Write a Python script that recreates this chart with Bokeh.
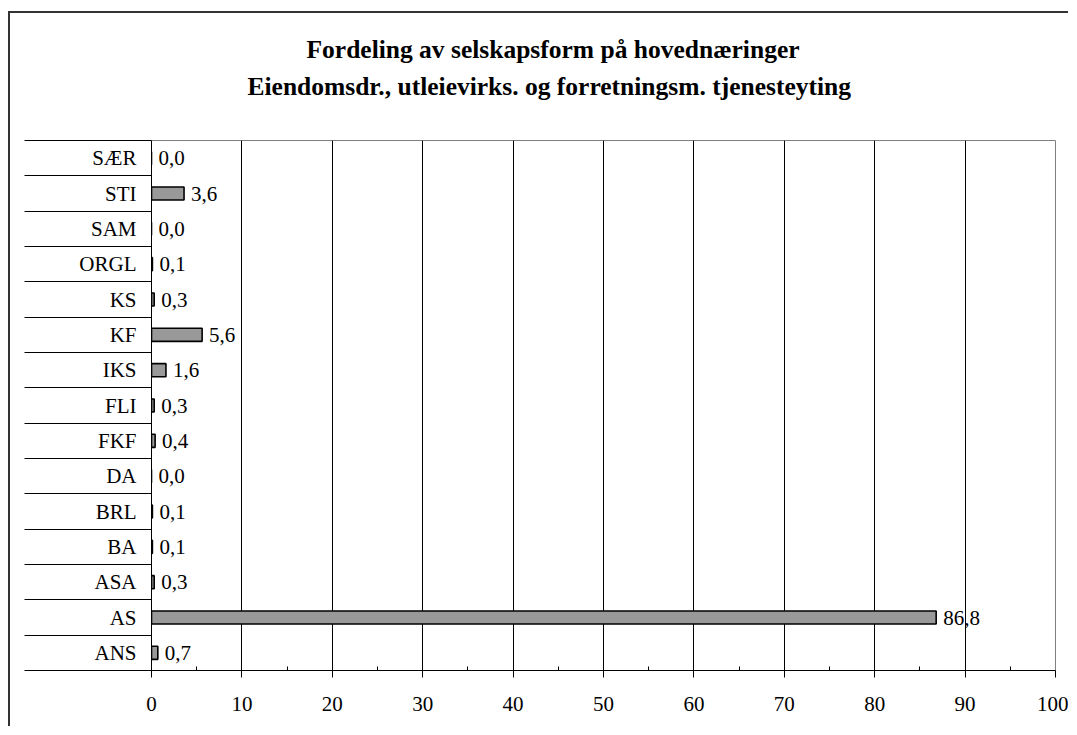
import numpy as np
from bokeh.plotting import figure
from bokeh.models import ColumnDataSource, FixedTicker, Range1d, Title, LinearAxis
from bokeh.core.properties import value
from bokeh.embed import file_html
from bokeh.resources import INLINE

categories = ["ANS", "AS", "ASA", "BA", "BRL", "DA", "FKF", "FLI", "IKS", "KF", "KS", "ORGL", "SAM", "STI", "SÆR"]
values = [0.7, 86.8, 0.3, 0.1, 0.1, 0.0, 0.4, 0.3, 1.6, 5.6, 0.3, 0.1, 0.0, 3.6, 0.0]
x_ticks = [0, 10, 20, 30, 40, 50, 60, 70, 80, 90, 100]
x_minor = [5, 15, 25, 35, 45, 55, 65, 75, 85, 95]
title_lines = ["Fordeling av selskapsform på hovednæringer",
               "Eiendomsdr., utleievirks. og forretningsm. tjenesteyting"]

FONT = "'Liberation Serif', serif"
FS = "21px"
n = len(categories)
ypos = [i + 0.5 for i in range(n)]
labels = [f"{v:.1f}".replace(".", ",") for v in values]

src = ColumnDataSource(dict(y=ypos, v=values, lab=labels, cat=categories))

p = figure(width=1060, height=715, output_backend="svg", toolbar_location=None,
           x_range=Range1d(0, 100), y_range=Range1d(0, n),
           min_border_left=141, min_border_right=15, min_border_top=127, min_border_bottom=58)
p.styles = {"margin-left": "8px", "margin-top": "11px",
            "border-left": "2px solid #333333", "border-top": "2px solid #333333"}

p.hbar(y="y", right="v", left=0, height=0.37, source=src,
       fill_color="#999999", line_color="#000000", line_width=1.6)
p.text(x="v", y="y", text="lab", source=src, x_offset=7,
       text_font=value(FONT), text_font_size=FS, text_baseline="middle",
       text_align="left", text_color="#000000")

# x axis
xa = p.xaxis[0]
xa.ticker = FixedTicker(ticks=x_ticks, minor_ticks=x_minor)
xa.major_tick_out = 7
xa.major_tick_in = 0
xa.minor_tick_in = 4
xa.minor_tick_out = 0
xa.axis_line_color = "#000000"
xa.major_tick_line_color = "#000000"
xa.minor_tick_line_color = "#000000"
xa.major_label_text_font = FONT
xa.major_label_text_font_size = FS
xa.major_label_text_color = "#000000"
xa.major_label_standoff = 19

# y axis: labels at category centres, boundary lines as long minor ticks
ya = p.yaxis[0]
ya.ticker = FixedTicker(ticks=ypos, minor_ticks=list(range(n + 1)))
ya.major_label_overrides = {y: c for y, c in zip(ypos, categories)}
ya.major_tick_out = 0
ya.major_tick_in = 0
ya.minor_tick_out = 127
ya.minor_tick_in = 0
ya.minor_tick_line_color = "#000000"
ya.axis_line_color = "#000000"
ya.major_label_text_font = FONT
ya.major_label_text_font_size = FS
ya.major_label_text_color = "#000000"
ya.major_label_standoff = 15 - 127

p.xgrid.ticker = FixedTicker(ticks=x_ticks)
p.xgrid.grid_line_color = "#000000"
p.xgrid.grid_line_width = 1
p.ygrid.grid_line_color = None
p.outline_line_color = "#808080"
p.outline_line_width = 1

# empty gap between the title block and the plot frame (an invisible axis)
spacer = LinearAxis(ticker=FixedTicker(ticks=[50]), axis_line_color=None,
                    major_tick_line_color=None, minor_tick_line_color=None,
                    major_tick_out=40, major_tick_in=0, minor_tick_out=0,
                    major_label_overrides={50: ""}, major_label_text_font_size="0px",
                    major_label_standoff=0)
p.add_layout(spacer, "above")

# two-line title (second line added first: it sits closer to the frame)
p.title = None
t2 = Title(text=title_lines[1], align="left", offset=96, standoff=0,
           text_font=FONT, text_font_size="25.5px", text_font_style="bold", text_color="#000000")
t1 = Title(text=title_lines[0], align="left", offset=155, standoff=12,
           text_font=FONT, text_font_size="25.5px", text_font_style="bold", text_color="#000000")
p.add_layout(t2, "above")
p.add_layout(t1, "above")

open("out.html", "w").write(file_html(p, INLINE))
